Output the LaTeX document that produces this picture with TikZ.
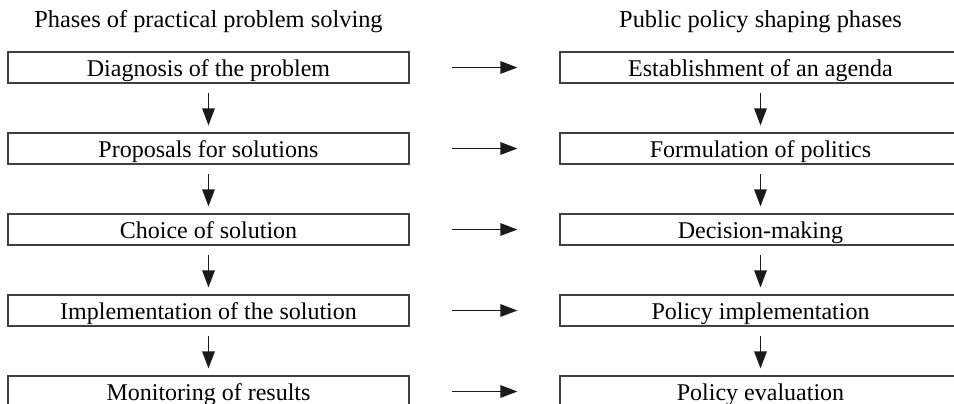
\documentclass[tikz,border=0pt]{standalone}
\usepackage{fontspec}
\setmainfont{Liberation Serif}
\usetikzlibrary{arrows.meta}
\definecolor{boxline}{HTML}{404040}
\definecolor{arrline}{HTML}{1A1A1A}
\tikzset{
  phasebox/.style={draw=boxline,line width=0.55pt,minimum width=200.5pt,minimum height=15.5pt,inner sep=0pt,text height=8.5pt,text depth=0pt,font=\fontsize{12}{14}\selectfont},
  headtext/.style={inner sep=0pt,font=\fontsize{12.2}{14}\selectfont},
  varr/.style={draw=arrline,line width=0.8pt,-{Triangle[length=8.5pt,width=6.2pt]},shorten <=4.5pt,shorten >=3.5pt},
  harr/.style={draw=arrline,line width=0.8pt,-{Triangle[length=8.5pt,width=6.2pt]},shorten <=21pt,shorten >=21pt}
}
\begin{document}
\begin{tikzpicture}[x=0.5pt,y=-0.5pt]
  \useasboundingbox (0,0) rectangle (954,403);
  \begin{scope}
  \clip (0,0) rectangle (954,403);
      % column titles
      \node[headtext] (hl) at (208.5,22) {Phases of practical problem solving};
      \node[headtext] (hr) at (760.5,22) {Public policy shaping phases};

      % problem solving
      \node[phasebox] (l1) at (208.5,67.5) {Diagnosis of the problem};
      \node[phasebox] (l2) at (208.5,148.5) {Proposals for solutions};
      \node[phasebox] (l3) at (208.5,229.5) {Choice of solution};
      \node[phasebox] (l4) at (208.5,310.5) {Implementation of the solution};
      \node[phasebox] (l5) at (208.5,391.5) {Monitoring of results};

      % policy shaping
      \node[phasebox] (r1) at (760.5,67.5) {Establishment of an agenda};
      \node[phasebox] (r2) at (760.5,148.5) {Formulation of politics};
      \node[phasebox] (r3) at (760.5,229.5) {Decision-making};
      \node[phasebox] (r4) at (760.5,310.5) {Policy implementation};
      \node[phasebox] (r5) at (760.5,391.5) {Policy evaluation};

      \draw[varr] (l1) -- (l2);
      \draw[varr] (l2) -- (l3);
      \draw[varr] (l3) -- (l4);
      \draw[varr] (l4) -- (l5);
      \draw[varr] (r1) -- (r2);
      \draw[varr] (r2) -- (r3);
      \draw[varr] (r3) -- (r4);
      \draw[varr] (r4) -- (r5);

      \draw[harr] (l1) -- (r1);
      \draw[harr] (l2) -- (r2);
      \draw[harr] (l3) -- (r3);
      \draw[harr] (l4) -- (r4);
      \draw[harr] (l5) -- (r5);
  \end{scope}
\end{tikzpicture}
\end{document}
